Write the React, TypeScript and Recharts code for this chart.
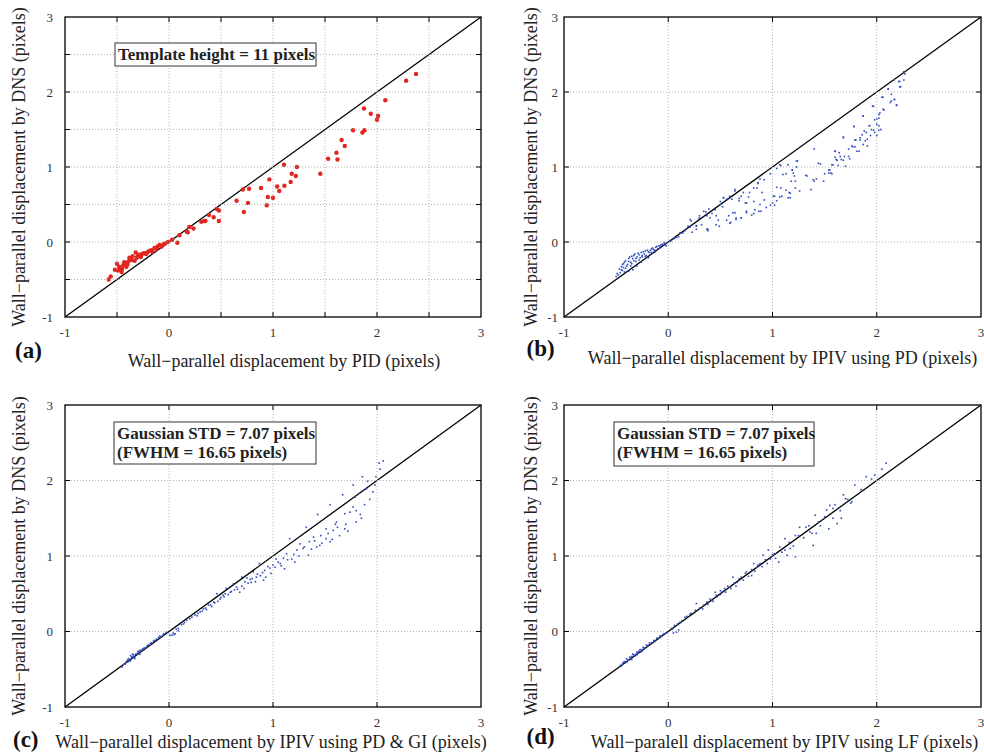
import React from "react";
import { ScatterChart, Scatter, XAxis, YAxis, ReferenceLine } from "recharts";

// values (x = method, y = DNS), in pixels
const PID_POINTS: [number, number][] = [
  [2.375, 2.24], [2.28, 2.15], [2.08, 1.89], [1.875, 1.78], [1.94, 1.71], [2.01, 1.68],
  [2.0, 1.63], [1.77, 1.49], [1.88, 1.49], [1.86, 1.46], [1.66, 1.36], [1.69, 1.28],
  [1.61, 1.19], [1.53, 1.11], [1.62, 1.1], [1.455, 0.91], [1.106, 1.03], [1.23, 1.0],
  [1.18, 0.91], [1.22, 0.88], [1.17, 0.8], [0.965, 0.835], [1.04, 0.74], [1.06, 0.68],
  [1.11, 0.75], [0.885, 0.72], [0.95, 0.6], [1.0, 0.59], [0.94, 0.49], [0.71, 0.7],
  [0.77, 0.71], [0.65, 0.55], [0.76, 0.52], [0.72, 0.4], [0.46, 0.44], [0.48, 0.42],
  [0.43, 0.33], [0.48, 0.28], [0.385, 0.36], [0.34, 0.28], [0.31, 0.27], [0.235, 0.18],
  [0.195, 0.2], [0.17, 0.14], [0.1, 0.09], [0.08, -0.01], [0.03, 0.03], [0.18, 0.13],
  [0.35, 0.28], [-0.58, -0.5], [-0.56, -0.46], [-0.52, -0.37], [-0.5, -0.29], [-0.49, -0.38],
  [-0.47, -0.35], [-0.455, -0.4], [-0.44, -0.31], [-0.42, -0.28], [-0.41, -0.33], [-0.39, -0.26],
  [-0.375, -0.22], [-0.35, -0.19], [-0.33, -0.25], [-0.32, -0.14], [-0.3, -0.19], [-0.29, -0.17],
  [-0.26, -0.16], [-0.24, -0.15], [-0.21, -0.14], [-0.19, -0.12], [-0.17, -0.11], [-0.14, -0.08],
  [-0.11, -0.06], [-0.09, -0.04], [-0.05, -0.03], [-0.04, -0.02], [-0.01, 0.0], [-0.45, -0.36],
  [-0.4, -0.3], [-0.36, -0.24], [-0.31, -0.21], [-0.27, -0.2], [-0.22, -0.16], [-0.16, -0.13],
  [-0.12, -0.09], [-0.07, -0.06], [-0.48, -0.33], [-0.43, -0.27], [-0.38, -0.21],
];

const PD_POINTS: [number, number][] = [
  [2.26, 2.27], [2.22, 2.14], [2.165, 2.16], [2.11, 2.04], [2.22, 2.07], [2.06, 1.93],
  [2.14, 1.88], [2.17, 1.9], [2.19, 1.83], [1.97, 1.81], [2.06, 1.77], [2.02, 1.7],
  [1.87, 1.68], [2.0, 1.64], [1.93, 1.55], [2.02, 1.55], [1.78, 1.54], [1.97, 1.49],
  [2.02, 1.49], [1.9, 1.46], [1.84, 1.39], [1.68, 1.4], [1.91, 1.37], [1.79, 1.36],
  [1.76, 1.28], [1.87, 1.3], [1.4, 1.24], [1.81, 1.21], [1.6, 1.21], [1.65, 1.14],
  [1.73, 1.14], [1.61, 1.1], [1.68, 1.09], [1.24, 1.08], [1.44, 1.05], [1.7, 1.01],
  [1.58, 1.03], [1.08, 1.02], [1.04, 0.98], [1.54, 0.96], [1.56, 0.92], [1.5, 0.91],
  [1.13, 0.91], [1.2, 0.92], [1.32, 0.89], [0.98, 0.91], [1.39, 0.83], [1.49, 0.81],
  [1.4, 0.81], [0.92, 0.83], [1.22, 0.81], [1.37, 0.7], [1.26, 0.68], [1.16, 0.66],
  [1.22, 0.72], [1.08, 0.72], [0.86, 0.79], [0.82, 0.72], [0.78, 0.66], [1.02, 0.61],
  [1.17, 0.59], [1.07, 0.6], [1.04, 0.55], [0.98, 0.49], [1.0, 0.52], [0.9, 0.66],
  [0.88, 0.5], [0.82, 0.38], [0.87, 0.41], [0.75, 0.52], [0.7, 0.61], [0.68, 0.55],
  [0.75, 0.41], [0.7, 0.32], [0.64, 0.7], [0.59, 0.61], [0.56, 0.57], [0.62, 0.39],
  [0.65, 0.32], [0.59, 0.25], [0.53, 0.59], [0.5, 0.5], [0.52, 0.47], [0.49, 0.21],
  [0.46, 0.35], [0.45, 0.43], [0.39, 0.44], [0.37, 0.35], [0.38, 0.17], [0.34, 0.41],
  [0.3, 0.35], [0.29, 0.3], [0.27, 0.22], [0.23, 0.13], [0.21, 0.3], [0.19, 0.21],
  [0.17, 0.17], [0.14, 0.12], [0.1, 0.07], [0.05, 0.04], [0.02, 0.01],
  [0.11, 0.12], [0.16, 0.15], [0.21, 0.2], [0.22, 0.28], [0.27, 0.21], [0.3, 0.32],
  [0.27, 0.17], [0.32, 0.23], [0.37, 0.17], [0.38, 0.15], [0.36, 0.4], [0.4, 0.32],
  [0.42, 0.38], [0.46, 0.23], [0.48, 0.29], [0.5, 0.54], [0.53, 0.59], [0.56, 0.29],
  [0.58, 0.35], [0.6, 0.26], [0.61, 0.57], [0.64, 0.68], [0.64, 0.39], [0.65, 0.3],
  [0.68, 0.58], [0.7, 0.32], [0.72, 0.66], [0.74, 0.52], [0.75, 0.39], [0.77, 0.6],
  [0.8, 0.36], [0.82, 0.54], [0.83, 0.43], [0.85, 0.72], [0.86, 0.78], [0.89, 0.41],
  [0.92, 0.56], [0.94, 0.46], [0.88, 0.84], [1.01, 0.61], [1.02, 0.49], [1.04, 0.73],
  [1.09, 0.61], [1.1, 0.9], [1.13, 0.69], [1.15, 0.59], [1.17, 0.65], [1.18, 0.81],
  [1.19, 0.96], [1.15, 1.03], [1.23, 1.08], [1.07, 1.03],
  [2.27, 2.24], [2.26, 2.16], [2.21, 2.14], [2.23, 2.07], [2.11, 2.04], [2.14, 1.97],
  [2.05, 1.93], [2.17, 1.9], [2.13, 1.86], [2.19, 1.82], [1.96, 1.81], [2.07, 1.76],
  [2.03, 1.72], [1.87, 1.68], [2.02, 1.65], [1.98, 1.63], [2.0, 1.57], [1.78, 1.54],
  [1.93, 1.55], [1.95, 1.5], [1.88, 1.48], [2.04, 1.5], [1.98, 1.46], [2.0, 1.42],
  [1.86, 1.43], [1.68, 1.39], [1.94, 1.42], [1.89, 1.35], [1.84, 1.36], [1.8, 1.36],
  [1.91, 1.28], [1.79, 1.27], [1.77, 1.27], [1.73, 1.24], [1.83, 1.21], [1.6, 1.21],
  [1.64, 1.19], [1.6, 1.13], [1.69, 1.14], [1.66, 1.1], [1.62, 1.09], [1.74, 1.11],
  [1.57, 1.03], [1.55, 0.96], [1.46, 1.04], [1.63, 1.02], [1.54, 0.92], [1.57, 0.91],
  [1.23, 1.0], [1.19, 0.96], [1.21, 0.88], [1.33, 0.88], [1.42, 0.84],
  [-0.5, -0.46], [-0.46, -0.41], [-0.43, -0.34], [-0.42, -0.27], [-0.38, -0.22], [-0.4, -0.32],
  [-0.35, -0.19], [-0.36, -0.27], [-0.32, -0.16], [-0.33, -0.25], [-0.29, -0.15], [-0.27, -0.21],
  [-0.24, -0.13], [-0.22, -0.19], [-0.2, -0.11], [-0.18, -0.14], [-0.16, -0.09], [-0.14, -0.1],
  [-0.11, -0.06], [-0.1, -0.09], [-0.06, -0.03], [-0.04, -0.01], [-0.02, -0.05], [-0.34, -0.37],
  [-0.38, -0.39], [-0.45, -0.37], [-0.26, -0.27], [-0.19, -0.21], [-0.13, -0.14], [-0.08, -0.08],
  [-0.3, -0.32], [-0.42, -0.4], [-0.48, -0.44], [-0.36, -0.32], [-0.44, -0.3], [-0.31, -0.22],
  [-0.25, -0.18], [-0.49, -0.42], [-0.47, -0.36], [-0.45, -0.33], [-0.44, -0.38], [-0.43, -0.29],
  [-0.41, -0.35], [-0.41, -0.25], [-0.39, -0.3], [-0.38, -0.26], [-0.37, -0.2], [-0.35, -0.29],
  [-0.34, -0.22], [-0.33, -0.18], [-0.31, -0.26], [-0.3, -0.2], [-0.28, -0.17], [-0.28, -0.24],
  [-0.26, -0.14], [-0.25, -0.2], [-0.23, -0.16], [-0.22, -0.12], [-0.21, -0.18], [-0.19, -0.13],
  [-0.17, -0.11], [-0.16, -0.14], [-0.15, -0.08], [-0.13, -0.11], [-0.12, -0.07], [-0.09, -0.05],
  [-0.08, -0.06], [-0.07, -0.04], [-0.05, -0.04], [-0.03, -0.02], [0.03, 0.02],
  [0.06, 0.05], [0.08, 0.06],
];

const GI_POINTS: [number, number][] = [
  [2.06, 2.26], [2.02, 2.23], [2.03, 2.15], [1.99, 2.05], [1.98, 1.94], [1.91, 1.99],
  [1.86, 2.05], [1.9, 1.89], [1.83, 1.83], [1.77, 1.94], [1.79, 1.78], [1.67, 1.81],
  [1.77, 1.65], [1.74, 1.58], [1.69, 1.56], [1.85, 1.5], [1.8, 1.45], [1.69, 1.36],
  [1.64, 1.27], [1.55, 1.68], [1.61, 1.45], [1.51, 1.36], [1.58, 1.34], [1.6, 1.42],
  [1.46, 1.27], [1.55, 1.19], [1.51, 1.23], [1.43, 1.55], [1.42, 1.12], [1.39, 1.25],
  [1.45, 1.14], [1.32, 1.38], [1.34, 1.01], [1.35, 1.19], [1.29, 1.1], [1.26, 1.16],
  [1.23, 1.08], [1.16, 1.23], [1.21, 0.92], [1.18, 0.96], [1.13, 1.03], [1.11, 0.83],
  [1.07, 0.9], [1.03, 0.96], [1.02, 0.85], [0.98, 0.77], [0.92, 0.81], [0.91, 0.68],
  [0.87, 0.9], [0.84, 0.72], [0.81, 0.79], [0.79, 0.65], [0.75, 0.71], [0.7, 0.72],
  [0.68, 0.52], [0.65, 0.59], [0.62, 0.63], [0.59, 0.52], [0.55, 0.57], [0.52, 0.48],
  [0.49, 0.43], [0.46, 0.5], [0.43, 0.39], [0.38, 0.35], [0.33, 0.3], [0.3, 0.26],
  [0.27, 0.21], [0.22, 0.19], [0.17, 0.15], [0.14, 0.1], [0.09, 0.04], [0.04, -0.02],
  [0.01, -0.05], [0.06, -0.03], [0.09, 0.01],
  [0.25, 0.22], [0.28, 0.24], [0.32, 0.27], [0.35, 0.31], [0.36, 0.29], [0.4, 0.35],
  [0.41, 0.33], [0.44, 0.38], [0.47, 0.4], [0.5, 0.45], [0.53, 0.46], [0.54, 0.5],
  [0.57, 0.49], [0.6, 0.53], [0.63, 0.55], [0.66, 0.56], [0.7, 0.6], [0.72, 0.57],
  [0.73, 0.66], [0.76, 0.64], [0.78, 0.69], [0.8, 0.7], [0.83, 0.66], [0.85, 0.76],
  [0.88, 0.74], [0.9, 0.78], [0.93, 0.72], [0.95, 0.86], [0.97, 0.84], [1.0, 0.88],
  [1.05, 0.92], [1.08, 0.87], [1.1, 0.97], [1.14, 0.95], [1.2, 1.02], [1.25, 1.0],
  [1.3, 1.12], [1.37, 1.09], [1.4, 1.2], [1.47, 1.17], [1.53, 1.3], [1.57, 1.22],
  [1.62, 1.38], [1.7, 1.42], [1.72, 1.33], [1.8, 1.6], [1.84, 1.55], [1.88, 1.68],
  [1.93, 1.75], [1.96, 1.85], [0.2, 0.17], [0.15, 0.12], [0.12, 0.09], [0.07, 0.03],
  [0.05, -0.04], [0.03, -0.05],
  [-0.45, -0.47], [-0.42, -0.43], [-0.39, -0.36], [-0.37, -0.32], [-0.35, -0.3], [-0.33, -0.36],
  [-0.3, -0.27], [-0.28, -0.25], [-0.25, -0.23], [-0.21, -0.19], [-0.18, -0.16], [-0.15, -0.13],
  [-0.12, -0.1], [-0.09, -0.06], [-0.05, -0.03], [-0.02, -0.01], [-0.36, -0.34], [-0.39, -0.4],
  [-0.32, -0.3], [-0.27, -0.26], [-0.23, -0.22], [-0.44, -0.44], [-0.41, -0.4], [-0.38, -0.37],
  [-0.4, -0.38], [-0.35, -0.33], [-0.34, -0.31], [-0.31, -0.3], [-0.3, -0.29], [-0.29, -0.26],
  [-0.26, -0.24], [-0.24, -0.22], [-0.22, -0.21], [-0.2, -0.18], [-0.17, -0.15], [-0.14, -0.12],
  [-0.13, -0.12], [-0.1, -0.08], [-0.08, -0.07], [-0.06, -0.05], [-0.03, -0.02], [-0.37, -0.39],
  [-0.33, -0.34], [-0.28, -0.3],
];

const LF_POINTS: [number, number][] = [
  [2.09, 2.23], [2.05, 2.15], [1.98, 2.07], [1.9, 2.05], [1.79, 1.94], [1.68, 1.81],
  [1.76, 1.72], [1.7, 1.76], [1.55, 1.67], [1.58, 1.63], [1.66, 1.5], [1.62, 1.43],
  [1.52, 1.61], [1.54, 1.36], [1.41, 1.54], [1.44, 1.45], [1.39, 1.14], [1.42, 1.3],
  [1.36, 1.32], [1.32, 1.38], [1.26, 1.38], [1.22, 1.27], [1.22, 0.99], [1.17, 1.1],
  [1.12, 1.23], [1.14, 1.01], [1.06, 0.92], [1.09, 1.05], [1.02, 1.03], [0.96, 1.08],
  [0.98, 0.96], [0.91, 1.01], [0.88, 0.9], [0.85, 0.85], [0.82, 0.9], [0.8, 0.74],
  [0.75, 0.79], [0.7, 0.72], [0.66, 0.65], [0.62, 0.72], [0.59, 0.59], [0.54, 0.57],
  [0.5, 0.54], [0.46, 0.48], [0.45, 0.52], [0.42, 0.41], [0.37, 0.39], [0.34, 0.35],
  [0.27, 0.37], [0.26, 0.28], [0.21, 0.23], [0.16, 0.19], [0.11, 0.12], [0.06, 0.08],
  [0.03, 0.04], [0.08, -0.01],
  [0.3, 0.31], [0.33, 0.3], [0.38, 0.36], [0.4, 0.43], [0.43, 0.4], [0.47, 0.46],
  [0.5, 0.49], [0.52, 0.53], [0.55, 0.52], [0.57, 0.6], [0.6, 0.57], [0.63, 0.64],
  [0.65, 0.6], [0.68, 0.7], [0.72, 0.68], [0.74, 0.77], [0.77, 0.73], [0.8, 0.82],
  [0.83, 0.8], [0.86, 0.88], [0.9, 0.86], [0.93, 0.95], [0.95, 0.9], [1.0, 1.02],
  [1.03, 0.97], [1.07, 1.12], [1.12, 1.08], [1.16, 1.18], [1.2, 1.13], [1.25, 1.27],
  [1.3, 1.24], [1.35, 1.4], [1.38, 1.3], [1.46, 1.4], [1.5, 1.52], [1.58, 1.5],
  [1.6, 1.68], [1.65, 1.6], [1.72, 1.75], [1.75, 1.7], [1.85, 1.88], [1.95, 2.02],
  [0.22, 0.24], [0.18, 0.2], [0.13, 0.14], [0.09, 0.1], [0.04, 0.03], [0.1, 0.02],
  [0.05, -0.02],
  [-0.46, -0.45], [-0.43, -0.41], [-0.4, -0.36], [-0.37, -0.34], [-0.34, -0.3], [-0.3, -0.27],
  [-0.27, -0.24], [-0.24, -0.21], [-0.21, -0.18], [-0.18, -0.15], [-0.14, -0.12], [-0.11, -0.09],
  [-0.08, -0.06], [-0.05, -0.04], [-0.02, -0.02], [-0.38, -0.38], [-0.32, -0.32], [-0.26, -0.27],
  [-0.42, -0.4], [-0.35, -0.33], [-0.29, -0.28], [-0.2, -0.19], [-0.44, -0.43], [-0.41, -0.4],
  [-0.39, -0.38], [-0.36, -0.35], [-0.33, -0.31], [-0.31, -0.3], [-0.28, -0.26], [-0.25, -0.24],
  [-0.23, -0.22], [-0.19, -0.18], [-0.16, -0.15], [-0.13, -0.12], [-0.1, -0.09], [-0.07, -0.06],
  [-0.04, -0.03], [-0.45, -0.46], [-0.4, -0.41], [-0.35, -0.37], [-0.3, -0.31], [-0.25, -0.26],
];

const INT_TICKS = [-1, 0, 1, 2, 3];
const HALF_TICKS = [-1, -0.5, 0, 0.5, 1, 1.5, 2, 2.5, 3];
const Y_TITLE = "Wall\u2212parallel displacement by DNS (pixels)";
const X_TITLES = [
  "Wall\u2212parallel displacement by PID (pixels)",
  "Wall\u2212parallel displacement by IPIV using PD (pixels)",
  "Wall\u2212parallel displacement by IPIV using PD & GI (pixels)",
  "Wall\u2212paralell displacement by IPIV using LF (pixels)",
];
const LETTERS = ["(a)", "(b)", "(c)", "(d)"];
const NOTE_A = ["Template height = 11 pixels"];
const NOTE_GAUSS = ["Gaussian STD = 7.07 pixels", "(FWHM = 16.65 pixels)"];

const SERIF = "Liberation Serif, Times New Roman, serif";
const LO = -1;
const HI = 3;
const X_GAP = 10;
const TICK_LEN = 5;
const GRID_STYLE = { stroke: "#a0a0a0", strokeDasharray: "1 2", strokeWidth: 0.8 };

const RedDot = (p: any) => <circle cx={p.cx} cy={p.cy} r={2.2} fill="#e2251e" />;
const BlueDot = (p: any) => (
  <rect x={p.cx - 0.8} y={p.cy - 0.8} width={1.6} height={1.6} fill="#2f4cc0" />
);

// x tick: label, vertical grid line, inward marks on bottom and top; first tick draws the frame,
// centre tick carries the axis title and panel letter
const makeXTick = (cfg: any) => (p: any) => {
  const v = p.payload.value;
  const bottom = p.y - X_GAP;
  const top = bottom - cfg.plotH;
  const inner = v > LO && v < HI;
  return (
    <g>
      {inner && <line x1={p.x} x2={p.x} y1={top} y2={bottom} {...GRID_STYLE} />}
      {inner && <rect x={p.x - 0.5} y={bottom - TICK_LEN} width={1} height={TICK_LEN} fill="#000" />}
      {inner && <rect x={p.x - 0.5} y={top} width={1} height={TICK_LEN} fill="#000" />}
      {v === LO && (
        <rect x={p.x} y={top} width={cfg.plotW} height={cfg.plotH}
          fill="none" stroke="#000" strokeWidth={1.3} />
      )}
      {Number.isInteger(v) && (
        <text x={p.x} y={p.y} dy="0.75em" textAnchor="middle"
          fontFamily={SERIF} fontSize={13} fill="#333">{String(v)}</text>
      )}
      {v === 1 && (
        <text x={p.x + cfg.titleDx} y={p.y + cfg.titleDy} textAnchor="middle"
          fontFamily={SERIF} fontSize={18} fill="#222">{cfg.title}</text>
      )}
      {v === 1 && (
        <text x={p.x + cfg.letterDx} y={p.y + cfg.letterDy} textAnchor="start"
          fontFamily={SERIF} fontSize={23} fontWeight="bold" fill="#111">{cfg.letter}</text>
      )}
    </g>
  );
};

// y tick: label, horizontal grid line, inward marks on left and right;
// centre tick carries the rotated title, the top one the note box
const makeYTick = (cfg: any) => (p: any) => {
  const v = p.payload.value;
  const plotLeft = p.x + cfg.yGap;
  const plotRight = plotLeft + cfg.plotW;
  const tx = p.x - cfg.titleDx;
  const inner = v > LO && v < HI;
  const n = cfg.note;
  return (
    <g>
      {inner && <line x1={plotLeft} x2={plotRight} y1={p.y} y2={p.y} {...GRID_STYLE} />}
      {inner && <rect x={plotLeft} y={p.y - 0.5} width={TICK_LEN} height={1} fill="#000" />}
      {inner && <rect x={plotRight - TICK_LEN} y={p.y - 0.5} width={TICK_LEN} height={1} fill="#000" />}
      {Number.isInteger(v) && (
        <text x={p.x} y={p.y} dy="0.35em" textAnchor="end"
          fontFamily={SERIF} fontSize={13} fill="#333">{String(v)}</text>
      )}
      {v === 1 && (
        <text x={tx} y={p.y} dy="0.35em" textAnchor="middle"
          transform={`rotate(-90 ${tx} ${p.y})`}
          fontFamily={SERIF} fontSize={18} fill="#222">{Y_TITLE}</text>
      )}
      {v === HI && n && (
        <g>
          <rect x={plotLeft + n.dx} y={p.y + n.dy} width={n.w} height={n.h}
            fill="#fff" stroke="#333" strokeWidth={1} />
          {n.lines.map((l: string, i: number) => (
            <text key={l} x={plotLeft + n.dx + 3} y={p.y + n.dy + 17 + i * 19}
              fontFamily={SERIF} fontSize={17} fontWeight="bold" fill="#222">{l}</text>
          ))}
        </g>
      )}
    </g>
  );
};

function Panel({ left, top, width, height, padLeft, padTop, padRight, xHeight,
  points, ticks, red, yGap, xCfg, yCfg }: any) {
  const data = points.map(([x, y]: [number, number]) => ({ x, y }));
  const plotW = width - padLeft - 30 - padRight;
  const plotH = height - padTop - xHeight;
  return (
    <div style={{ position: "absolute", left, top }}>
      <ScatterChart
        width={width}
        height={height}
        margin={{ top: padTop, right: padRight, bottom: 0, left: padLeft }}
      >
        <XAxis
          type="number" dataKey="x" domain={[LO, HI]} ticks={ticks} interval={0}
          tickSize={0} tickMargin={X_GAP} height={xHeight} tickLine={false}
          axisLine={false} tick={makeXTick({ ...xCfg, plotW, plotH })} allowDataOverflow
        />
        <YAxis
          type="number" dataKey="y" domain={[LO, HI]} ticks={ticks} interval={0}
          tickSize={0} tickMargin={yGap} width={30} tickLine={false}
          axisLine={false} tick={makeYTick({ ...yCfg, yGap, plotW })} allowDataOverflow
        />
        <ReferenceLine
          segment={[{ x: LO, y: LO }, { x: HI, y: HI }]}
          ifOverflow="visible" stroke="#000" strokeWidth={1.3}
        />
        <Scatter data={data} shape={red ? RedDot : BlueDot} isAnimationActive={false} />
      </ScatterChart>
    </div>
  );
}

export default function App() {
  return (
    <div
      style={{
        position: "absolute", left: 0, top: 0, width: 984, height: 753,
        background: "#fff", overflow: "hidden",
      }}
    >
      <Panel left={0} top={0} width={490} height={380} padLeft={35} padTop={17} padRight={9}
        xHeight={63} points={PID_POINTS} ticks={HALF_TICKS} red yGap={12}
        xCfg={{ title: X_TITLES[0], titleDx: 11, titleDy: 40, letter: LETTERS[0], letterDx: -258, letterDy: 31 }}
        yCfg={{ titleDx: 34, note: { dx: 50, dy: 26, w: 201, h: 23, lines: NOTE_A } }} />
      <Panel left={500} top={0} width={484} height={380} padLeft={34} padTop={17} padRight={3}
        xHeight={63} points={PD_POINTS} ticks={INT_TICKS} yGap={6}
        xCfg={{ title: X_TITLES[1], titleDx: 10, titleDy: 37, letter: LETTERS[1], letterDx: -246, letterDy: 29 }}
        yCfg={{ titleDx: 27 }} />
      <Panel left={0} top={390} width={490} height={363} padLeft={35} padTop={15} padRight={9}
        xHeight={46} points={GI_POINTS} ticks={INT_TICKS} yGap={12}
        xCfg={{ title: X_TITLES[2], titleDx: -2, titleDy: 31, letter: LETTERS[2], letterDx: -260, letterDy: 30 }}
        yCfg={{ titleDx: 34, note: { dx: 49, dy: 17, w: 202, h: 42, lines: NOTE_GAUSS } }} />
      <Panel left={500} top={390} width={484} height={363} padLeft={34} padTop={15} padRight={3}
        xHeight={46} points={LF_POINTS} ticks={INT_TICKS} yGap={6}
        xCfg={{ title: X_TITLES[3], titleDx: 12, titleDy: 31, letter: LETTERS[3], letterDx: -246, letterDy: 27 }}
        yCfg={{ titleDx: 27, note: { dx: 50, dy: 17, w: 200, h: 44, lines: NOTE_GAUSS } }} />
    </div>
  );
}
